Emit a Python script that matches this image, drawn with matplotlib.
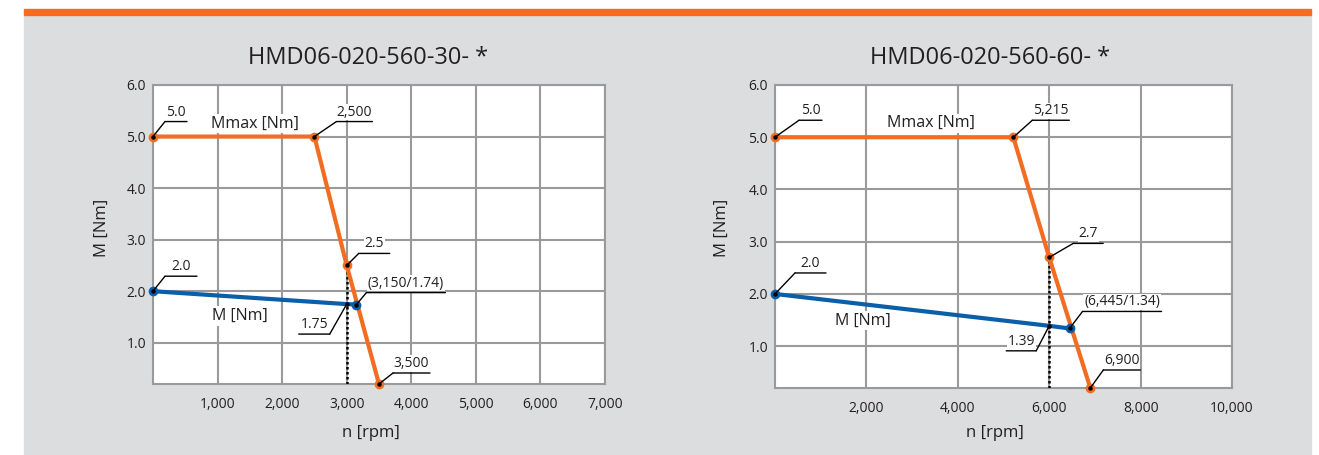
import matplotlib
matplotlib.use('Agg')
import matplotlib.pyplot as plt
from matplotlib.patches import Rectangle
from matplotlib.transforms import offset_copy

plt.rcParams['font.family'] = ['Open Sans', 'DejaVu Sans']

W, H = 1319, 455

# --- data -------------------------------------------------------------
titles = ['HMD06-020-560-30- *', 'HMD06-020-560-60- *']

# HMD06-020-560-30
n_max_30 = [0, 2500, 3000, 3500]
m_max_30 = [5.0, 5.0, 2.5, 0.2]
n_m_30 = [0, 3000, 3150]
m_m_30 = [2.0, 1.75, 1.74]
lbl_max_30 = ['5.0', '2,500', '2.5', '3,500']
lbl_m_30 = ['2.0', '1.75', '(3,150/1.74)']
xticks_30 = [1000, 2000, 3000, 4000, 5000, 6000, 7000]

# HMD06-020-560-60
n_max_60 = [0, 5215, 6000, 6900]
m_max_60 = [5.0, 5.0, 2.7, 0.2]
n_m_60 = [0, 6000, 6445]
m_m_60 = [2.0, 1.39, 1.34]
lbl_max_60 = ['5.0', '5,215', '2.7', '6,900']
lbl_m_60 = ['2.0', '1.39', '(6,445/1.34)']
xticks_60 = [2000, 4000, 6000, 8000, 10000]

yticks = [1.0, 2.0, 3.0, 4.0, 5.0, 6.0]

# colours
orange = '#f26d21'
blue = '#0b5ea8'
panel = '#dcdddf'
gridc = '#9a9a9a'
textc = '#231f20'

fig = plt.figure(figsize=(W / 100, H / 100), dpi=100)
fig.patch.set_facecolor('white')
fig.patches.append(Rectangle((24 / W, 0), (1311 - 24) / W, (H - 15) / H,
                             transform=fig.transFigure, color=panel, zorder=-2))
fig.patches.append(Rectangle((24 / W, (H - 15) / H), (1311 - 24) / W, 6 / H,
                             transform=fig.transFigure, color=orange, zorder=-2))


def callout(ax, x, y, txt, dx, dy, w):
    # leader line: diagonal from point, then horizontal underline with the text on it
    lp = dict(arrowstyle='-', color='black', lw=1.0, shrinkA=0, shrinkB=0)
    ax.annotate('', xy=(x, y), xytext=(dx, dy), textcoords='offset pixels',
                arrowprops=lp, annotation_clip=False, zorder=8)
    base = offset_copy(ax.transData, fig=fig, x=dx, y=dy, units='dots')
    ax.annotate('', xy=(x, y), xycoords=base, xytext=(w, 0), textcoords='offset pixels',
                arrowprops=lp, annotation_clip=False, zorder=8)
    ax.annotate(txt, xy=(x, y), xytext=(dx + w / 2, dy + 2), textcoords='offset pixels',
                ha='center', va='bottom', fontsize=10, color=textc, zorder=7,
                annotation_clip=False,
                bbox=dict(boxstyle='square,pad=0.05', fc='white', ec='none'))


def draw(ax, title, tcx, n_max, m_max, n_m, m_m, lbl_max, lbl_m, xticks, xmax, ymin,
         off_max, off_m, mmax_pos, m_pos, ylab_x, xlab_x):
    ax.set_xlim(0, xmax)
    ax.set_ylim(ymin, 6.0)
    ax.set_xticks(xticks)
    ax.set_xticklabels([f'{v:,}' for v in xticks])
    ax.set_yticks(yticks)
    ax.set_yticklabels([f'{v:.1f}' for v in yticks])
    ax.tick_params(length=0, labelsize=10, labelcolor=textc)
    ax.tick_params(axis='x', pad=9)
    ax.tick_params(axis='y', pad=5)
    ax.grid(True, color=gridc, lw=1.5)
    ax.set_axisbelow(True)
    for s in ax.spines.values():
        s.set_color(gridc)
        s.set_linewidth(1.5)

    # dotted drop line at the rated speed
    ax.vlines(n_m[1], ymin, m_max[2], colors='black', linestyles=(0, (1, 1)), lw=1.8, zorder=3)

    ax.plot(n_max, m_max, color=orange, lw=3, zorder=4, solid_capstyle='butt')
    ax.plot(n_m, m_m, color=blue, lw=3, zorder=4, solid_capstyle='butt')
    ax.plot(n_max, m_max, 'o', color=orange, ms=6, zorder=5, clip_on=False)
    ax.plot([n_m[0], n_m[2]], [m_m[0], m_m[2]], 'o', color=blue, ms=6, zorder=5, clip_on=False)
    ax.plot(n_max + n_m, m_max + m_m, 'o', color='black', ms=2.2, zorder=6, clip_on=False)

    for x, y, t, o in zip(n_max, m_max, lbl_max, off_max):
        callout(ax, x, y, t, *o)
    for x, y, t, o in zip(n_m, m_m, lbl_m, off_m):
        callout(ax, x, y, t, *o)

    ax.text(*mmax_pos, 'Mmax [Nm]', fontsize=11.5, color=textc, ha='center', va='center',
            zorder=3, bbox=dict(boxstyle='square,pad=0.1', fc='white', ec='none'))
    ax.text(*m_pos, 'M [Nm]', fontsize=11.5, color=textc, ha='center', va='center',
            zorder=3, bbox=dict(boxstyle='square,pad=0.1', fc='white', ec='none'))

    fig.text(tcx / W, 1 - 64 / H, title, fontsize=17, color=textc, ha='center', va='baseline')
    fig.text(ylab_x / W, 1 - 228 / H, 'M [Nm]', fontsize=12, color=textc,
             rotation=90, ha='center', va='center')
    fig.text(xlab_x / W, 1 - 437 / H, 'n [rpm]', fontsize=12, color=textc,
             ha='center', va='baseline')


ax1 = fig.add_axes([153 / W, (H - 384) / H, 452 / W, 299 / H])
draw(ax1, titles[0], 368, n_max_30, m_max_30, n_m_30, m_m_30, lbl_max_30, lbl_m_30,
     xticks_30, 7000, 0.2,
     [(12, 15, 22), (22, 15, 36), (12, 12, 31), (14, 11, 37)],
     [(12, 15, 32), (-17, -30, -31), (10, 12, 79)],
     (1580, 5.25), (1350, 1.52), 102, 371)

ax2 = fig.add_axes([775 / W, (H - 388) / H, 457 / W, 303 / H])
draw(ax2, titles[1], 990, n_max_60, m_max_60, n_m_60, m_m_60, lbl_max_60, lbl_m_60,
     xticks_60, 10000, 0.2,
     [(24, 17, 23), (19, 17, 37), (24, 14, 30), (13, 18, 37)],
     [(20, 21, 31), (-13, -25, -30), (13, 17, 79)],
     (3410, 5.27), (1925, 1.49), 722, 995)

fig.savefig('out.png', dpi=100)
